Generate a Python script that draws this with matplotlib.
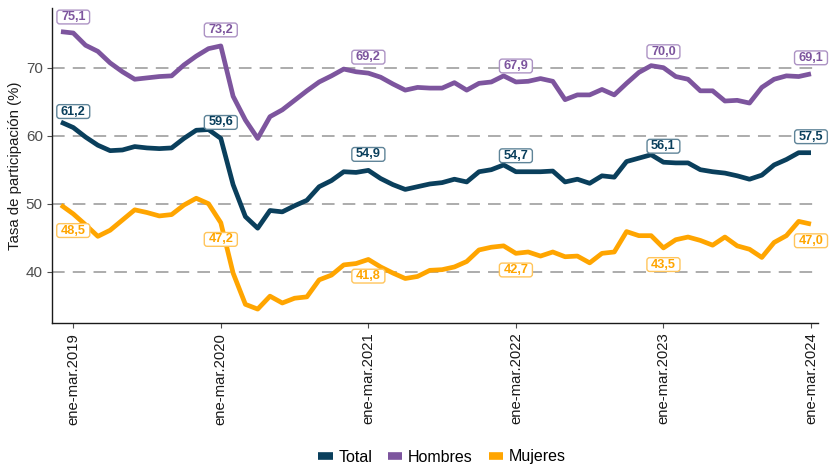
import matplotlib
matplotlib.use("Agg")
import matplotlib.pyplot as plt
from matplotlib.lines import Line2D
from matplotlib.patches import BoxStyle
import numpy as np

plt.rcParams['font.family'] = ['Liberation Sans', 'DejaVu Sans']

# ---- data (rolling quarters, dic-feb 2019 ... ene-mar 2024) ----
hombres = [75.3, 75.1, 73.3, 72.4, 70.7, 69.4, 68.3, 68.5, 68.7, 68.8,
           70.4, 71.7, 72.8, 73.2, 65.8, 62.3, 59.6, 62.8, 63.8, 65.2,
           66.6, 67.9, 68.8, 69.8, 69.4, 69.2, 68.6, 67.6, 66.7, 67.1,
           67.0, 67.0, 67.8, 66.7, 67.7, 67.9, 68.8, 67.9, 68.0, 68.4,
           68.0, 65.3, 66.0, 66.0, 66.8, 66.0, 67.7, 69.3, 70.3, 70.0,
           68.7, 68.3, 66.6, 66.6, 65.1, 65.2, 64.8, 67.1, 68.3, 68.8,
           68.7, 69.1]
total = [62.0, 61.2, 59.8, 58.6, 57.8, 57.9, 58.4, 58.2, 58.1, 58.2,
         59.6, 60.8, 60.9, 59.6, 52.8, 48.1, 46.4, 49.0, 48.8, 49.7,
         50.5, 52.5, 53.4, 54.7, 54.6, 54.9, 53.7, 52.8, 52.1, 52.5,
         52.9, 53.1, 53.6, 53.2, 54.7, 55.0, 55.7, 54.7, 54.7, 54.7,
         54.8, 53.2, 53.6, 53.0, 54.1, 53.9, 56.2, 56.7, 57.2, 56.1,
         56.0, 56.0, 55.0, 54.7, 54.5, 54.1, 53.6, 54.2, 55.7, 56.5,
         57.5, 57.5]
mujeres = [49.8, 48.5, 46.9, 45.2, 46.1, 47.6, 49.1, 48.7, 48.2, 48.4,
           49.8, 50.8, 50.0, 47.2, 39.8, 35.2, 34.5, 36.4, 35.4, 36.1,
           36.3, 38.8, 39.5, 41.0, 41.2, 41.8, 40.7, 39.8, 39.0, 39.3,
           40.2, 40.3, 40.7, 41.5, 43.2, 43.6, 43.8, 42.7, 42.9, 42.3,
           42.9, 42.2, 42.3, 41.3, 42.7, 42.9, 45.9, 45.3, 45.3, 43.5,
           44.7, 45.1, 44.6, 43.9, 45.1, 43.8, 43.3, 42.1, 44.3, 45.3,
           47.4, 47.0]
tick_labels = ["ene-mar.2019", "ene-mar.2020", "ene-mar.2021",
               "ene-mar.2022", "ene-mar.2023", "ene-mar.2024"]
label_idx = [1, 13, 25, 37, 49, 61]   # ene-mar of each year
series_names = ["Total", "Hombres", "Mujeres"]

colors = {"Total": "#0a3f5c", "Hombres": "#7d559e", "Mujeres": "#ffa500"}
edge_colors = {"Total": "#5f8498", "Hombres": "#ad93c4", "Mujeres": "#ffc55c"}

x = np.arange(len(total))

fig = plt.figure(figsize=(8.37, 4.67), dpi=100)
ax = fig.add_axes([0.0627, 0.3084, 0.9146, 0.6745])

for yv in [40, 50, 60, 70]:
    ax.axhline(yv, color="#a6a6a6", lw=1.3, ls=(0, (7, 4.5)), zorder=1)

data = {"Total": total, "Hombres": hombres, "Mujeres": mujeres}
for name in ["Mujeres", "Hombres", "Total"]:
    ax.plot(x, data[name], color=colors[name], lw=3.4, solid_joinstyle="round",
            solid_capstyle="butt", zorder=3)


def label_box(x0, y0, width, height, mutation_size):
    padx = 0.32 * mutation_size
    pady = 0.07 * mutation_size
    return BoxStyle.Round(pad=0, rounding_size=0.22)(
        x0 - padx, y0 - pady, width + 2 * padx, height + 2 * pady, mutation_size)


nudge = {"Total": 2.35, "Hombres": 2.35, "Mujeres": -2.45}
for name in series_names:
    vals = data[name]
    for i in label_idx:
        v = vals[i]
        ax.text(x[i], v + nudge[name], f"{v:.1f}".replace(".", ","),
                ha="center", va="center", fontsize=9.2, fontweight="bold",
                color=colors[name], zorder=5, clip_on=False,
                bbox=dict(boxstyle=label_box, fc="white",
                          ec=edge_colors[name], lw=1.0))

ax.set_xlim(-0.69, 61.57)
ax.set_ylim(32.46, 78.78)
ax.set_yticks([40, 50, 60, 70])
ax.set_xticks([x[i] for i in label_idx])
ax.set_xticklabels(tick_labels, rotation=90, fontsize=10.7, color="#1a1a1a")
ax.tick_params(axis="y", labelsize=11, colors="#4d4d4d", length=3.5, width=0.8)
ax.tick_params(axis="x", length=3.5, width=0.8, color="#4d4d4d")
ax.set_ylabel("Tasa de participación (%)", fontsize=10.8, color="#1a1a1a", labelpad=3)

for s in ["top", "right"]:
    ax.spines[s].set_visible(False)
for s in ["left", "bottom"]:
    ax.spines[s].set_linewidth(1.0)
    ax.spines[s].set_color("#1a1a1a")

handles = [Line2D([0], [0], color=colors[n], lw=5.5, solid_capstyle="butt")
           for n in series_names]
fig.legend(handles, series_names, loc="center", ncol=3,
           bbox_to_anchor=(442 / 837, 1 - 457 / 467), frameon=False,
           fontsize=11.5, handlelength=0.9, handletextpad=0.35,
           columnspacing=1.0)

fig.savefig("out.png", dpi=100)
